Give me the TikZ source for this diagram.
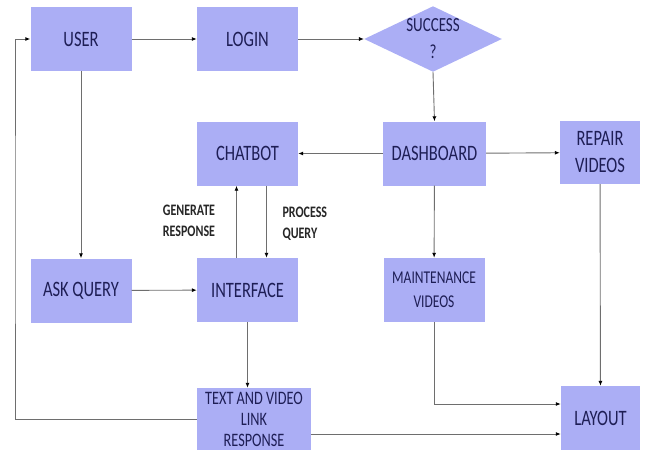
\documentclass[tikz,border=0pt]{standalone}
\usepackage{fontspec}
\setmainfont{Carlito}[FakeStretch=0.75]
\usetikzlibrary{shapes.geometric, arrows.meta, positioning}
\definecolor{boxfill}{RGB}{171,174,245}
\definecolor{boxtext}{RGB}{30,30,85}
\definecolor{linegray}{RGB}{110,110,110}

\begin{document}
\begin{tikzpicture}[
    x=1pt, y=-1pt,
    box/.style={rectangle, fill=boxfill, minimum width=101pt, minimum height=64pt, text=boxtext, align=center, inner sep=2pt, font=\fontsize{22}{27}\selectfont},
    decision/.style={diamond, fill=boxfill, aspect=2.1, minimum width=137pt, minimum height=65pt, inner sep=0pt, text=boxtext, align=center, font=\fontsize{20}{27}\selectfont},
    arrow/.style={-{Latex[length=5pt,width=4pt,color=black]}, linegray, line width=0.9pt},
    lbl/.style={font=\bfseries\fontsize{16}{21}\selectfont, text=black!85, align=left}
]
    \useasboundingbox (0,0) rectangle (652,452);

    % boxes
    \node[box] (user) at (81,39) {USER};
    \node[box] (login) at (247.5,39) {LOGIN};
    \node[decision] (succ) at (433,39) {SUCCESS\\?};
    \node[box, minimum width=103pt] (dash) at (434.5,153.5) {DASHBOARD};
    \node[box, minimum width=80pt, minimum height=63pt] (repair) at (600,152.5) {REPAIR\\VIDEOS};
    \node[box] (chat) at (247.5,153.5) {CHATBOT};
    \node[box] (ask) at (81,290.5) {ASK QUERY};
    \node[box] (iface) at (247.5,290) {INTERFACE};
    \node[box, font=\fontsize{18}{24}\selectfont] (maint) at (434,290) {MAINTENANCE\\VIDEOS};
    \node[box, minimum width=114pt, minimum height=62pt, font=\fontsize{19}{21}\selectfont] (resp) at (254,419) {TEXT AND VIDEO\\LINK\\RESPONSE};
    \node[box, minimum width=79pt] (layout) at (600.5,418) {LAYOUT};

    % labels
    \node[lbl] (gen) at (189,221) {GENERATE\\RESPONSE};
    \node[lbl, anchor=west] (proc) at (279,224) {PROCESS\\QUERY};

    % connectors
    \draw[arrow] (user) -- (login);
    \draw[arrow] (login) -- (succ.west);
    \draw[arrow] (succ.south) -- (dash.north);
    \draw[arrow] (dash) -- (chat);
    \draw[arrow] (dash) -- (repair);
    \draw[arrow] (dash) -- (maint);
    \draw[arrow] (user) -- (ask);
    \draw[arrow] (ask) -- (iface);
    \draw[arrow] ([xshift=-11pt]iface.north) -- ([xshift=-11pt]chat.south);
    \draw[arrow] ([xshift=19pt]chat.south) -- ([xshift=19pt]iface.north);
    \draw[arrow] (iface.south) -- (iface.south |- resp.north);
    \coordinate (back) at (15,230);
    \draw[arrow] (resp.west) -| (back) |- (user.west);
    \draw[arrow] ([yshift=-15pt]resp.east) -- ([yshift=-15pt]resp.east -| layout.west);
    \draw[arrow] (maint.south) |- ([yshift=14pt]layout.west);
    \draw[arrow] (repair) -- (layout);
\end{tikzpicture}
\end{document}
